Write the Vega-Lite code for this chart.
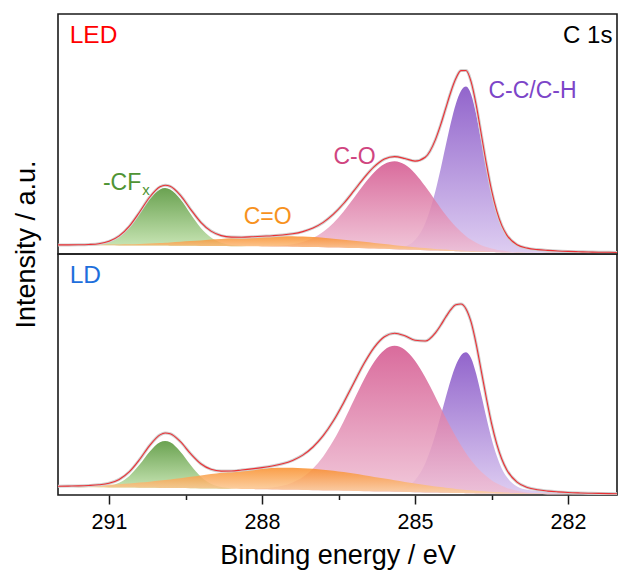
{
  "$schema": "https://vega.github.io/schema/vega-lite/v6.json",
  "padding": {"left": 11, "top": 13, "right": 1, "bottom": 0},
  "background": "white",
  "config": {
    "view": {"stroke": "#1a1a1a", "strokeWidth": 1.6},
    "font": "Liberation Sans",
    "axisY": {"labels": false, "ticks": false, "domain": false, "grid": false, "titleFont": "Liberation Sans", "titleFontSize": 27, "titleFontWeight": "normal", "titleColor": "#000000", "titleX": -23.3, "titleY": 230, "titleBaseline": "alphabetic", "titleAlign": "center", "titleAngle": -90},
    "axisX": {"grid": false}
  },
  "datasets": {
    "led": [
      {"x":292.0,"bg":9.0,"g":9.0,"o":9.1,"c":9.0,"v":9.0,"f":9.1},
      {"x":291.8,"bg":8.9,"g":8.9,"o":9.1,"c":8.9,"v":8.9,"f":9.1},
      {"x":291.6,"bg":8.9,"g":8.9,"o":9.1,"c":8.9,"v":8.9,"f":9.2},
      {"x":291.4,"bg":8.8,"g":9.1,"o":9.2,"c":8.8,"v":8.8,"f":9.5},
      {"x":291.2,"bg":8.8,"g":9.8,"o":9.3,"c":8.8,"v":8.8,"f":10.3},
      {"x":291.0,"bg":8.7,"g":12.0,"o":9.4,"c":8.7,"v":8.7,"f":12.7},
      {"x":290.8,"bg":8.6,"g":17.1,"o":9.6,"c":8.6,"v":8.6,"f":18.1},
      {"x":290.6,"bg":8.6,"g":26.6,"o":9.8,"c":8.6,"v":8.6,"f":27.9},
      {"x":290.4,"bg":8.5,"g":40.4,"o":10.1,"c":8.5,"v":8.5,"f":42.0},
      {"x":290.2,"bg":8.5,"g":54.9,"o":10.5,"c":8.5,"v":8.5,"f":57.0},
      {"x":290.0,"bg":8.4,"g":64.6,"o":11.0,"c":8.4,"v":8.4,"f":67.2},
      {"x":289.9,"bg":8.4,"g":65.9,"o":11.3,"c":8.4,"v":8.4,"f":68.8},
      {"x":289.8,"bg":8.3,"g":64.5,"o":11.6,"c":8.3,"v":8.3,"f":67.7},
      {"x":289.6,"bg":8.2,"g":54.7,"o":12.2,"c":8.2,"v":8.2,"f":58.7},
      {"x":289.4,"bg":8.2,"g":40.0,"o":12.9,"c":8.2,"v":8.2,"f":44.7},
      {"x":289.2,"bg":8.1,"g":26.1,"o":13.6,"c":8.1,"v":8.1,"f":31.7},
      {"x":289.0,"bg":8.0,"g":16.5,"o":14.4,"c":8.0,"v":8.0,"f":22.9},
      {"x":288.8,"bg":7.9,"g":11.2,"o":15.1,"c":7.9,"v":7.9,"f":18.4},
      {"x":288.6,"bg":7.8,"g":8.9,"o":15.9,"c":7.8,"v":7.8,"f":16.9},
      {"x":288.4,"bg":7.8,"g":8.0,"o":16.5,"c":7.8,"v":7.8,"f":16.8},
      {"x":288.2,"bg":7.7,"g":7.7,"o":17.1,"c":7.8,"v":7.7,"f":17.2},
      {"x":288.0,"bg":7.6,"g":7.6,"o":17.5,"c":7.8,"v":7.6,"f":17.8},
      {"x":287.8,"bg":7.5,"g":7.5,"o":17.8,"c":8.0,"v":7.5,"f":18.3},
      {"x":287.6,"bg":7.4,"g":7.4,"o":17.8,"c":8.6,"v":7.4,"f":19.0},
      {"x":287.4,"bg":7.2,"g":7.2,"o":17.7,"c":9.8,"v":7.2,"f":20.2},
      {"x":287.2,"bg":7.1,"g":7.1,"o":17.4,"c":12.1,"v":7.1,"f":22.4},
      {"x":287.0,"bg":7.0,"g":7.0,"o":16.9,"c":16.0,"v":7.0,"f":26.0},
      {"x":286.8,"bg":6.8,"g":6.8,"o":16.2,"c":22.2,"v":6.8,"f":31.6},
      {"x":286.6,"bg":6.5,"g":6.5,"o":15.3,"c":31.0,"v":6.5,"f":39.8},
      {"x":286.4,"bg":6.3,"g":6.3,"o":14.3,"c":42.5,"v":6.3,"f":50.5},
      {"x":286.2,"bg":6.0,"g":6.0,"o":13.3,"c":55.9,"v":6.0,"f":63.1},
      {"x":286.0,"bg":5.8,"g":5.8,"o":12.2,"c":69.7,"v":5.8,"f":76.1},
      {"x":285.8,"bg":5.5,"g":5.5,"o":11.0,"c":81.8,"v":5.5,"f":87.3},
      {"x":285.6,"bg":5.2,"g":5.2,"o":9.9,"c":90.1,"v":5.3,"f":94.9},
      {"x":285.4,"bg":4.8,"g":4.8,"o":8.8,"c":92.8,"v":5.5,"f":97.4},
      {"x":285.2,"bg":4.5,"g":4.5,"o":7.8,"c":89.4,"v":7.3,"f":95.5},
      {"x":285.0,"bg":4.2,"g":4.2,"o":6.8,"c":80.5,"v":13.9,"f":92.9},
      {"x":284.8,"bg":3.8,"g":3.8,"o":5.9,"c":67.7,"v":30.7,"f":96.7},
      {"x":284.6,"bg":3.5,"g":3.5,"o":5.1,"c":53.3,"v":63.0,"f":114.4},
      {"x":284.5,"bg":3.3,"g":3.3,"o":4.7,"c":46.1,"v":84.5,"f":128.8},
      {"x":284.4,"bg":3.1,"g":3.1,"o":4.4,"c":39.3,"v":107.9,"f":145.3},
      {"x":284.3,"bg":2.9,"g":2.9,"o":4.0,"c":33.0,"v":130.7,"f":161.8},
      {"x":284.2,"bg":2.8,"g":2.8,"o":3.7,"c":27.2,"v":150.1,"f":175.4},
      {"x":284.1,"bg":2.6,"g":2.6,"o":3.4,"c":22.2,"v":163.0,"f":183.4},
      {"x":284.0,"bg":2.4,"g":2.4,"o":3.1,"c":17.8,"v":167.4,"f":183.5},
      {"x":283.9,"bg":2.3,"g":2.3,"o":2.9,"c":14.2,"v":159.6,"f":172.1},
      {"x":283.8,"bg":2.2,"g":2.2,"o":2.7,"c":11.2,"v":139.3,"f":148.8},
      {"x":283.7,"bg":2.1,"g":2.1,"o":2.5,"c":8.8,"v":112.4,"f":119.5},
      {"x":283.6,"bg":2.0,"g":2.0,"o":2.3,"c":6.9,"v":84.6,"f":89.9},
      {"x":283.5,"bg":1.9,"g":1.9,"o":2.2,"c":5.4,"v":60.0,"f":63.8},
      {"x":283.4,"bg":1.7,"g":1.7,"o":2.0,"c":4.3,"v":40.5,"f":43.3},
      {"x":283.3,"bg":1.6,"g":1.6,"o":1.8,"c":3.4,"v":26.6,"f":28.6},
      {"x":283.2,"bg":1.5,"g":1.5,"o":1.7,"c":2.7,"v":17.5,"f":18.9},
      {"x":283.0,"bg":1.3,"g":1.3,"o":1.4,"c":1.8,"v":8.6,"f":9.3},
      {"x":282.8,"bg":1.2,"g":1.2,"o":1.3,"c":1.5,"v":5.6,"f":5.9},
      {"x":282.6,"bg":1.2,"g":1.2,"o":1.2,"c":1.3,"v":4.3,"f":4.4},
      {"x":282.4,"bg":1.1,"g":1.1,"o":1.2,"c":1.2,"v":3.5,"f":3.6},
      {"x":282.2,"bg":1.1,"g":1.1,"o":1.1,"c":1.1,"v":3.0,"f":3.0},
      {"x":282.0,"bg":1.0,"g":1.0,"o":1.0,"c":1.0,"v":2.6,"f":2.6},
      {"x":281.8,"bg":1.0,"g":1.0,"o":1.0,"c":1.0,"v":2.3,"f":2.3},
      {"x":281.6,"bg":0.9,"g":0.9,"o":0.9,"c":0.9,"v":2.0,"f":2.0},
      {"x":281.4,"bg":0.9,"g":0.9,"o":0.9,"c":0.9,"v":1.8,"f":1.8},
      {"x":281.2,"bg":0.8,"g":0.8,"o":0.8,"c":0.8,"v":1.7,"f":1.7},
      {"x":281.0,"bg":0.8,"g":0.8,"o":0.8,"c":0.8,"v":1.5,"f":1.5}
    ],
    "ld": [
      {"x":292.0,"bg":8.0,"g":8.0,"o":8.7,"c":8.0,"v":8.0,"f":8.7},
      {"x":291.8,"bg":7.9,"g":7.9,"o":8.9,"c":7.9,"v":7.9,"f":8.9},
      {"x":291.6,"bg":7.8,"g":7.9,"o":9.1,"c":7.8,"v":7.8,"f":9.1},
      {"x":291.4,"bg":7.8,"g":7.8,"o":9.4,"c":7.8,"v":7.8,"f":9.5},
      {"x":291.2,"bg":7.7,"g":8.1,"o":9.8,"c":7.7,"v":7.7,"f":10.2},
      {"x":291.0,"bg":7.6,"g":9.1,"o":10.3,"c":7.6,"v":7.6,"f":11.8},
      {"x":290.8,"bg":7.5,"g":12.2,"o":10.8,"c":7.5,"v":7.5,"f":15.6},
      {"x":290.6,"bg":7.4,"g":19.1,"o":11.5,"c":7.4,"v":7.4,"f":23.3},
      {"x":290.4,"bg":7.3,"g":30.4,"o":12.4,"c":7.3,"v":7.3,"f":35.5},
      {"x":290.2,"bg":7.2,"g":43.6,"o":13.3,"c":7.2,"v":7.2,"f":49.7},
      {"x":290.0,"bg":7.1,"g":52.8,"o":14.4,"c":7.1,"v":7.1,"f":60.1},
      {"x":289.9,"bg":7.0,"g":54.0,"o":15.0,"c":7.0,"v":7.0,"f":62.0},
      {"x":289.8,"bg":7.0,"g":52.7,"o":15.6,"c":7.0,"v":7.0,"f":61.3},
      {"x":289.6,"bg":6.9,"g":43.3,"o":16.8,"c":6.9,"v":6.9,"f":53.3},
      {"x":289.4,"bg":6.7,"g":29.9,"o":18.2,"c":6.7,"v":6.7,"f":41.3},
      {"x":289.2,"bg":6.6,"g":18.3,"o":19.6,"c":6.6,"v":6.6,"f":31.3},
      {"x":289.0,"bg":6.5,"g":11.2,"o":21.0,"c":6.5,"v":6.5,"f":25.7},
      {"x":288.8,"bg":6.3,"g":7.9,"o":22.3,"c":6.4,"v":6.3,"f":23.9},
      {"x":288.6,"bg":6.2,"g":6.6,"o":23.6,"c":6.3,"v":6.2,"f":24.0},
      {"x":288.4,"bg":6.0,"g":6.1,"o":24.7,"c":6.2,"v":6.0,"f":25.0},
      {"x":288.2,"bg":5.9,"g":5.9,"o":25.7,"c":6.3,"v":5.9,"f":26.1},
      {"x":288.0,"bg":5.7,"g":5.7,"o":26.4,"c":6.7,"v":5.7,"f":27.4},
      {"x":287.8,"bg":5.5,"g":5.5,"o":27.0,"c":7.5,"v":5.5,"f":29.0},
      {"x":287.6,"bg":5.3,"g":5.3,"o":27.2,"c":9.3,"v":5.3,"f":31.2},
      {"x":287.4,"bg":5.2,"g":5.2,"o":27.2,"c":12.6,"v":5.2,"f":34.6},
      {"x":287.2,"bg":5.0,"g":5.0,"o":26.8,"c":18.1,"v":5.0,"f":39.9},
      {"x":287.0,"bg":4.8,"g":4.8,"o":26.2,"c":26.6,"v":4.8,"f":48.0},
      {"x":286.8,"bg":4.6,"g":4.6,"o":25.3,"c":38.6,"v":4.6,"f":59.3},
      {"x":286.6,"bg":4.4,"g":4.4,"o":24.2,"c":54.4,"v":4.4,"f":74.2},
      {"x":286.4,"bg":4.2,"g":4.2,"o":22.9,"c":73.6,"v":4.2,"f":92.3},
      {"x":286.2,"bg":4.0,"g":4.0,"o":21.4,"c":94.7,"v":4.0,"f":112.1},
      {"x":286.0,"bg":3.8,"g":3.8,"o":19.8,"c":115.5,"v":3.8,"f":131.5},
      {"x":285.8,"bg":3.6,"g":3.6,"o":18.1,"c":133.2,"v":3.7,"f":147.7},
      {"x":285.6,"bg":3.4,"g":3.4,"o":16.4,"c":145.1,"v":3.7,"f":158.3},
      {"x":285.4,"bg":3.2,"g":3.2,"o":14.7,"c":149.2,"v":4.3,"f":161.8},
      {"x":285.2,"bg":3.0,"g":3.0,"o":13.0,"c":145.2,"v":7.0,"f":159.2},
      {"x":285.0,"bg":2.8,"g":2.8,"o":11.4,"c":134.2,"v":14.7,"f":154.7},
      {"x":284.8,"bg":2.6,"g":2.6,"o":9.9,"c":117.7,"v":31.6,"f":154.0},
      {"x":284.6,"bg":2.4,"g":2.4,"o":8.5,"c":98.1,"v":60.4,"f":162.2},
      {"x":284.5,"bg":2.3,"g":2.3,"o":7.9,"c":87.8,"v":78.4,"f":169.5},
      {"x":284.4,"bg":2.2,"g":2.2,"o":7.3,"c":77.6,"v":97.2,"f":177.7},
      {"x":284.3,"bg":2.1,"g":2.1,"o":6.7,"c":67.8,"v":115.0,"f":185.3},
      {"x":284.2,"bg":2.0,"g":2.0,"o":6.1,"c":58.4,"v":129.7,"f":190.2},
      {"x":284.1,"bg":1.9,"g":1.9,"o":5.6,"c":49.7,"v":139.5,"f":191.0},
      {"x":284.0,"bg":1.8,"g":1.8,"o":5.1,"c":41.8,"v":142.8,"f":186.1},
      {"x":283.9,"bg":1.7,"g":1.7,"o":4.7,"c":34.7,"v":136.8,"f":172.8},
      {"x":283.8,"bg":1.6,"g":1.6,"o":4.3,"c":28.5,"v":121.1,"f":150.7},
      {"x":283.7,"bg":1.6,"g":1.6,"o":3.9,"c":23.2,"v":99.8,"f":123.7},
      {"x":283.6,"bg":1.5,"g":1.5,"o":3.6,"c":18.7,"v":77.2,"f":96.5},
      {"x":283.5,"bg":1.4,"g":1.4,"o":3.2,"c":14.8,"v":56.5,"f":71.7},
      {"x":283.4,"bg":1.3,"g":1.3,"o":2.9,"c":11.7,"v":39.4,"f":51.4},
      {"x":283.3,"bg":1.2,"g":1.2,"o":2.7,"c":9.2,"v":26.6,"f":36.0},
      {"x":283.2,"bg":1.2,"g":1.2,"o":2.4,"c":7.1,"v":17.9,"f":25.1},
      {"x":283.0,"bg":1.0,"g":1.0,"o":1.9,"c":4.3,"v":8.6,"f":12.8},
      {"x":282.8,"bg":0.9,"g":0.9,"o":1.6,"c":2.6,"v":5.2,"f":7.6},
      {"x":282.6,"bg":0.9,"g":0.9,"o":1.4,"c":1.7,"v":3.9,"f":5.2},
      {"x":282.4,"bg":0.8,"g":0.8,"o":1.2,"c":1.2,"v":3.1,"f":3.9},
      {"x":282.2,"bg":0.8,"g":0.8,"o":1.0,"c":0.9,"v":2.6,"f":3.1},
      {"x":282.0,"bg":0.7,"g":0.7,"o":0.9,"c":0.8,"v":2.2,"f":2.5},
      {"x":281.8,"bg":0.7,"g":0.7,"o":0.8,"c":0.7,"v":1.9,"f":2.1},
      {"x":281.6,"bg":0.6,"g":0.6,"o":0.7,"c":0.6,"v":1.7,"f":1.8},
      {"x":281.4,"bg":0.6,"g":0.6,"o":0.6,"c":0.6,"v":1.5,"f":1.6},
      {"x":281.2,"bg":0.5,"g":0.5,"o":0.6,"c":0.5,"v":1.3,"f":1.4},
      {"x":281.0,"bg":0.5,"g":0.5,"o":0.5,"c":0.5,"v":1.2,"f":1.2}
    ],
    "lab": [
      {"x":291.77,"y":211.3,"t":"LED"},
      {"x":281.13,"y":210.7,"t":"C 1s"},
      {"x":283.56,"y":155.7,"t":"C-C/C-H"},
      {"x":286.6,"y":90,"t":"C-O"},
      {"x":288.36,"y":29.7,"t":"C=O"},
      {"x":291.12,"y":64,"t":"-CF"},
      {"x":290.35,"y":59,"t":"x"}
    ],
    "lab2": [
      {"x":291.77,"y":212.3,"t":"LD"}
    ]
  },
  "spacing": 0,
  "bounds": "flush",
  "vconcat": [
    {
      "width": 559,
      "height": 240,
      "data": {"name": "led"},
      "encoding": {
        "x": {"field": "x", "type": "quantitative", "scale": {"domain": [281.04, 292], "reverse": true, "nice": false, "zero": false}, "axis": null}
      },
      "layer": [
        {"mark": {"type": "area", "interpolate": "monotone", "clip": true, "fillOpacity": 0.9,
          "color": {"gradient": "linear", "x1": 0, "y1": 0, "x2": 0, "y2": 1, "stops": [{"offset": 0, "color": "#8654c6"}, {"offset": 1, "color": "#dac8f0"}]}},
         "encoding": {"y": {"field": "v", "type": "quantitative", "title": "Intensity / a.u.", "scale": {"domain": [0, 240], "nice": false, "zero": false}}, "y2": {"field": "bg"}}},
        {"mark": {"type": "area", "interpolate": "monotone", "clip": true, "fillOpacity": 0.84,
          "color": {"gradient": "linear", "x1": 0, "y1": 0, "x2": 0, "y2": 1, "stops": [{"offset": 0, "color": "#d24f89"}, {"offset": 1, "color": "#efbfd4"}]}},
         "encoding": {"y": {"field": "c", "type": "quantitative", "title": "Intensity / a.u."}, "y2": {"field": "bg"}}},
        {"mark": {"type": "area", "interpolate": "monotone", "clip": true, "fillOpacity": 0.9,
          "color": {"gradient": "linear", "x1": 0, "y1": 0, "x2": 0, "y2": 1, "stops": [{"offset": 0, "color": "#5a983e"}, {"offset": 1, "color": "#cdeab8"}]}},
         "encoding": {"y": {"field": "g", "type": "quantitative", "title": "Intensity / a.u."}, "y2": {"field": "bg"}}},
        {"mark": {"type": "area", "interpolate": "monotone", "clip": true, "fillOpacity": 0.84,
          "color": {"gradient": "linear", "x1": 0, "y1": 0, "x2": 0, "y2": 1, "stops": [{"offset": 0, "color": "#f98c26"}, {"offset": 1, "color": "#fcd4a8"}]}},
         "encoding": {"y": {"field": "o", "type": "quantitative", "title": "Intensity / a.u."}, "y2": {"field": "bg"}}},
        {"mark": {"type": "line", "interpolate": "monotone", "clip": true, "color": "#cfcfcf", "strokeWidth": 3},
         "encoding": {"y": {"field": "f", "type": "quantitative", "title": "Intensity / a.u."}}},
        {"mark": {"type": "line", "interpolate": "monotone", "clip": true, "color": "#ec3035", "strokeWidth": 1.1},
         "encoding": {"y": {"field": "f", "type": "quantitative", "title": "Intensity / a.u."}}},
        {"data": {"name": "lab"},
         "transform": [{"filter": "datum.t === 'LED'"}],
         "mark": {"type": "text", "align": "left", "baseline": "alphabetic", "fontSize": 24.5, "font": "Liberation Sans"},
         "encoding": {"y": {"field": "y", "type": "quantitative", "title": "Intensity / a.u."}, "text": {"field": "t"},
           "color": {"field": "t", "type": "nominal", "legend": null, "scale": {"domain": ["LED", "C 1s", "LD", "-CF", "x", "C=O", "C-O", "C-C/C-H"], "range": ["#ff0000", "#000000", "#1e6fdc", "#4f9434", "#4f9434", "#f7921e", "#d0457f", "#7c45c8"]}}}},
        {"data": {"name": "lab"},
         "transform": [{"filter": "datum.t === 'C 1s'"}],
         "mark": {"type": "text", "align": "right", "baseline": "alphabetic", "fontSize": 24, "font": "Liberation Sans"},
         "encoding": {"y": {"field": "y", "type": "quantitative", "title": "Intensity / a.u."}, "text": {"field": "t"},
           "color": {"field": "t", "type": "nominal", "legend": null}}},
        {"data": {"name": "lab"},
         "transform": [{"filter": "datum.t === 'C-C/C-H' || datum.t === 'C-O' || datum.t === 'C=O' || datum.t === '-CF'"}],
         "mark": {"type": "text", "align": "left", "baseline": "alphabetic", "fontSize": 23, "font": "Liberation Sans"},
         "encoding": {"y": {"field": "y", "type": "quantitative", "title": "Intensity / a.u."}, "text": {"field": "t"},
           "color": {"field": "t", "type": "nominal", "legend": null}}},
        {"data": {"name": "lab"},
         "transform": [{"filter": "datum.t === 'x'"}],
         "mark": {"type": "text", "align": "left", "baseline": "alphabetic", "fontSize": 15, "font": "Liberation Sans"},
         "encoding": {"y": {"field": "y", "type": "quantitative", "title": "Intensity / a.u."}, "text": {"field": "t"},
           "color": {"field": "t", "type": "nominal", "legend": null}}}
      ]
    },
    {
      "width": 559,
      "height": 241,
      "data": {"name": "ld"},
      "encoding": {
        "x": {"field": "x", "type": "quantitative", "scale": {"domain": [281.04, 292], "reverse": true, "nice": false, "zero": false},
          "axis": {"values": [291, 289.5, 288, 286.5, 285, 283.5, 282], "format": "d",
            "labelExpr": "datum.value % 3 === 0 ? datum.label : ''",
            "tickSize": {"condition": {"test": "datum.value % 3 !== 0", "value": 4.5}, "value": 9},
            "tickWidth": 1.5, "tickColor": "#1a1a1a", "domain": false,
            "labelFont": "Liberation Sans", "labelFontSize": 21.5, "labelColor": "#000000", "labelPadding": 7,
            "title": "Binding energy / eV", "titleFont": "Liberation Sans", "titleFontSize": 27, "titleFontWeight": "normal", "titleColor": "#000000", "titlePadding": 10}}
      },
      "layer": [
        {"mark": {"type": "area", "interpolate": "monotone", "clip": true, "fillOpacity": 0.9,
          "color": {"gradient": "linear", "x1": 0, "y1": 0, "x2": 0, "y2": 1, "stops": [{"offset": 0, "color": "#8654c6"}, {"offset": 1, "color": "#dac8f0"}]}},
         "encoding": {"y": {"field": "v", "type": "quantitative", "axis": null, "scale": {"domain": [0, 241], "nice": false, "zero": false}}, "y2": {"field": "bg"}}},
        {"mark": {"type": "area", "interpolate": "monotone", "clip": true, "fillOpacity": 0.84,
          "color": {"gradient": "linear", "x1": 0, "y1": 0, "x2": 0, "y2": 1, "stops": [{"offset": 0, "color": "#d24f89"}, {"offset": 1, "color": "#efbfd4"}]}},
         "encoding": {"y": {"field": "c", "type": "quantitative", "axis": null}, "y2": {"field": "bg"}}},
        {"mark": {"type": "area", "interpolate": "monotone", "clip": true, "fillOpacity": 0.9,
          "color": {"gradient": "linear", "x1": 0, "y1": 0, "x2": 0, "y2": 1, "stops": [{"offset": 0, "color": "#5a983e"}, {"offset": 1, "color": "#cdeab8"}]}},
         "encoding": {"y": {"field": "g", "type": "quantitative", "axis": null}, "y2": {"field": "bg"}}},
        {"mark": {"type": "area", "interpolate": "monotone", "clip": true, "fillOpacity": 0.84,
          "color": {"gradient": "linear", "x1": 0, "y1": 0, "x2": 0, "y2": 1, "stops": [{"offset": 0, "color": "#f98c26"}, {"offset": 1, "color": "#fcd4a8"}]}},
         "encoding": {"y": {"field": "o", "type": "quantitative", "axis": null}, "y2": {"field": "bg"}}},
        {"mark": {"type": "line", "interpolate": "monotone", "clip": true, "color": "#cfcfcf", "strokeWidth": 3},
         "encoding": {"y": {"field": "f", "type": "quantitative", "axis": null}}},
        {"mark": {"type": "line", "interpolate": "monotone", "clip": true, "color": "#ec3035", "strokeWidth": 1.1},
         "encoding": {"y": {"field": "f", "type": "quantitative", "axis": null}}},
        {"data": {"name": "lab2"},
         "mark": {"type": "text", "align": "left", "baseline": "alphabetic", "fontSize": 24.5, "font": "Liberation Sans"},
         "encoding": {"y": {"field": "y", "type": "quantitative", "axis": null}, "text": {"field": "t"},
           "color": {"field": "t", "type": "nominal", "legend": null}}}
      ]
    }
  ]
}
